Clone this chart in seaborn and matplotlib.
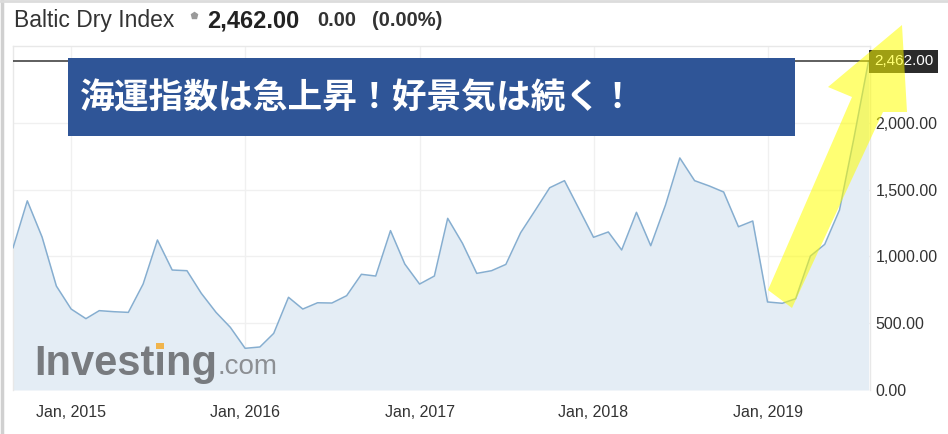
import matplotlib
matplotlib.use("Agg")
import matplotlib.pyplot as plt
import matplotlib.dates as mdates
from matplotlib.patches import Polygon, Rectangle
from matplotlib.lines import Line2D
import seaborn as sns
import pandas as pd
import numpy as np

# ---- data (monthly, Sep 2014 .. Aug 2019) ----
start_month = "2014-09-01"
bdi_values = [1063, 1416, 1145, 778, 606, 534, 594, 586, 581, 793,
              1123, 898, 893, 724, 581, 469, 312, 322, 424, 694,
              606, 653, 651, 706, 866, 853, 1193, 943, 793, 853,
              1285, 1098, 873, 893, 940, 1177, 1347, 1514, 1567, 1359,
              1143, 1183, 1048, 1330, 1080, 1385, 1737, 1567, 1527, 1482,
              1222, 1265, 659, 649, 683, 1003, 1090, 1347, 1880, 2462]
last_value = 2462.00
y_ticks = [0, 500, 1000, 1500, 2000]
title_name = "Baltic Dry Index"
title_price = "2,462.00"
title_change = "0.00"
title_pct = "(0.00%)"
banner_text = "海運指数は急上昇！好景気は続く！"

dates = pd.date_range(start_month, periods=len(bdi_values), freq="MS")
df = pd.DataFrame({"date": dates, "value": bdi_values})

sns.set_theme(style="white")
plt.rcParams["font.family"] = ["Liberation Sans", "DejaVu Sans"]

W, H = 948, 434
fig = plt.figure(figsize=(W / 100, H / 100), dpi=100)
fig.patch.set_facecolor("white")

def fx(px):
    return px / W

def fy(py):
    return 1 - py / H

ax = fig.add_axes([fx(13), fy(390), fx(870) - fx(13), fy(46) - fy(390)])
ax.set_facecolor("white")

line_col = "#86aed0"
fill_col = "#e4edf5"

ax.fill_between(df["date"], df["value"], 0, color=fill_col, lw=0, zorder=1)
sns.lineplot(data=df, x="date", y="value", ax=ax, color=line_col, lw=1.1, zorder=3)

ax.set_ylim(0, 2575)
xmin = dates[0]
xmax = dates[-1] + pd.Timedelta(days=3)
ax.set_xlim(xmin, xmax)

# grid
ax.set_yticks(y_ticks)
ax.set_yticklabels([f"{v:,.2f}" for v in y_ticks])
ax.yaxis.tick_right()
ax.xaxis.set_major_locator(mdates.MonthLocator(bymonth=1))
ax.xaxis.set_major_formatter(mdates.DateFormatter("%b, %Y"))
ax.grid(True, color="#f0f0f0", lw=1, zorder=0)
ax.tick_params(axis="both", length=0, labelsize=11.5, colors="#333333")
ax.tick_params(axis="y", pad=4)
ax.tick_params(axis="x", pad=11)
ax.set_xlabel("")
ax.set_ylabel("")
for s in ["top", "left", "right"]:
    ax.spines[s].set_color("#e8e8e8")
    ax.spines[s].set_linewidth(1)
ax.spines["bottom"].set_visible(False)

# current value line & label
ax.axhline(last_value, color="#333333", lw=1.1, zorder=4)
ax.text(1.0 + 4 / 857, last_value, f"{last_value:,.2f}", transform=ax.get_yaxis_transform(),
        ha="left", va="center", fontsize=11, color="white", zorder=6, clip_on=False,
        bbox=dict(boxstyle="square,pad=0.3", fc="#2b2b2b", ec="none"))

# banner
fig.add_artist(Rectangle((fx(68), fy(136)), fx(795) - fx(68), fy(58) - fy(136),
                         transform=fig.transFigure, fc="#2f5597", ec="none", zorder=10))
fig.text(fx(80), fy(98), banner_text, fontsize=25, fontweight="bold", color="white",
         family=["Noto Sans CJK JP", "DejaVu Sans"], ha="left", va="center", zorder=11)

# watermark logo
fig.text(fx(34), fy(364), "Investing", fontsize=30, fontweight="bold", color="#787b7f",
         ha="left", va="center", zorder=5)
fig.text(fx(217), fy(367), ".com", fontsize=20, color="#8c8f93",
         ha="left", va="center", zorder=5)
fig.add_artist(Rectangle((fx(156), fy(349)), fx(8), 6 / H, transform=fig.transFigure,
                         fc="#f0b44c", ec="none", zorder=6))

# header
fig.text(fx(14), fy(21), title_name, fontsize=16.5, color="#333333", ha="left", va="center")
fig.add_artist(Line2D([fx(194)], [fy(15)], marker="p", ms=5, color="#9a9a9a",
                      transform=fig.transFigure))
fig.text(fx(207), fy(21), title_price, fontsize=17, fontweight="bold", color="#222222",
         ha="left", va="center")
fig.text(fx(317), fy(21), title_change, fontsize=14.5, fontweight="bold", color="#333333",
         ha="left", va="center")
fig.text(fx(372), fy(21), title_pct, fontsize=14.5, fontweight="bold", color="#333333",
         ha="left", va="center")

# yellow arrow annotation
arrow_px = [(768, 290), (852, 97), (828, 87), (902, 25), (907, 112), (883, 112), (792, 308)]
fig.add_artist(Polygon([(fx(x), fy(y)) for x, y in arrow_px], closed=True,
                       transform=fig.transFigure, fc="#ffff00", ec="none", alpha=0.55,
                       zorder=20))

# outer frame (left and top edges only)
fig.add_artist(Line2D([0.002, 0.002], [0, 1], color="#d0d0d0", lw=2.5,
                      transform=fig.transFigure, zorder=30))
fig.add_artist(Line2D([0, 1], [0.998, 0.998], color="#dcdcdc", lw=2,
                      transform=fig.transFigure, zorder=30))

fig.savefig("out.png", dpi=100)
